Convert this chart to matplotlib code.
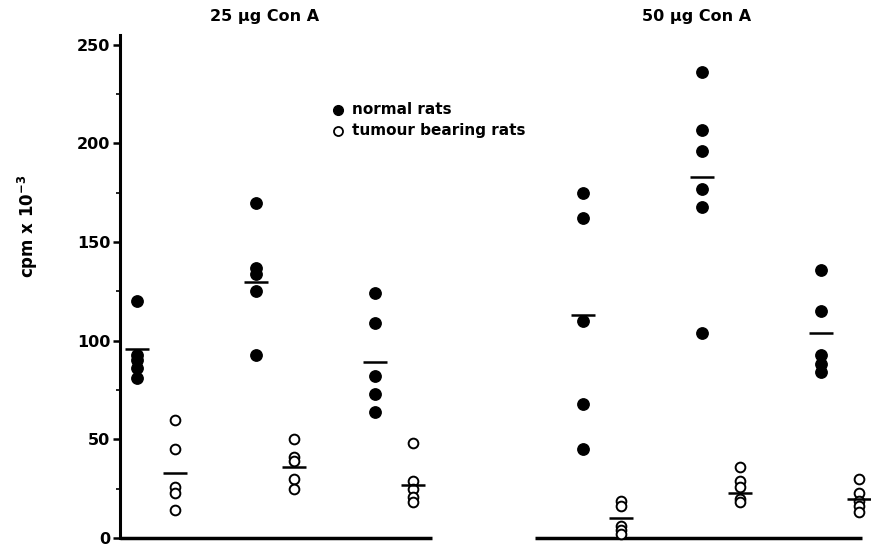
import matplotlib
matplotlib.use("Agg")
import matplotlib.pyplot as plt
import numpy as np

# ---- data (cpm x 10^-3) ----
groups = ["25 \u03bcg Con A", "50 \u03bcg Con A"]

normal_25 = [
    [120, 93, 90, 86, 81],
    [170, 137, 134, 125, 93],
    [124, 109, 82, 73, 64],
]
tumour_25 = [
    [60, 45, 26, 23, 14],
    [50, 41, 39, 30, 25],
    [48, 29, 25, 21, 18],
]
normal_50 = [
    [175, 162, 110, 68, 45],
    [236, 207, 196, 177, 168, 104],
    [136, 115, 93, 88, 84],
]
tumour_50 = [
    [19, 16, 6, 4, 2],
    [36, 29, 26, 20, 18],
    [30, 23, 19, 16, 13],
]
# mean bars as drawn in the figure
normal_means = [[96, 130, 89], [113, 183, 104]]
tumour_means = [[33, 36, 27], [10, 23, 20]]

yticks = [0, 50, 100, 150, 200, 250]
legend_labels = ["normal rats", "tumour bearing rats"]

# ---- layout ----
W, H, DPI = 871, 546, 100
PX = 119.0                      # pixels per x unit (pair spacing)
group_start = [17 / PX, 463 / PX]
pair_offset = 38 / PX
base_spans = [(0.0, 312 / PX), (415 / PX, 742 / PX)]
half_bar = 12 / PX
title_x = [(265 - 120) / PX, (697 - 120) / PX]

fig = plt.figure(figsize=(W / DPI, H / DPI), dpi=DPI)
ax = fig.add_axes([120 / W, 8 / H, 751 / W, 503 / H])
ax.set_xlim(0, 751 / PX)
ax.set_ylim(0, 255)

normals = [normal_25, normal_50]
tumours = [tumour_25, tumour_50]

for g in range(2):
    for p in range(3):
        xn = group_start[g] + p
        xt = xn + pair_offset
        yn = normals[g][p]
        yt = tumours[g][p]
        ax.plot([xn] * len(yn), yn, "o", color="black", ms=8.2,
                mec="black", clip_on=False, zorder=3)
        ax.plot([xt] * len(yt), yt, "o", mfc="white", mec="black", ms=7,
                mew=1.4, clip_on=False, zorder=3)
        ax.plot([xn - half_bar, xn + half_bar], [normal_means[g][p]] * 2,
                color="black", lw=1.8, zorder=4, solid_capstyle="butt")
        ax.plot([xt - half_bar, xt + half_bar], [tumour_means[g][p]] * 2,
                color="black", lw=1.8, zorder=4, solid_capstyle="butt")
    x0, x1 = base_spans[g]
    ax.plot([x0, x1], [0, 0], color="black", lw=2.5, clip_on=False,
            solid_capstyle="butt", zorder=2)
    ax.text(title_x[g], 264.5, groups[g], ha="center", va="center",
            fontsize=11.5, fontweight="bold")

# legend
lx = (338 - 120) / PX
ax.plot([lx], [217], "o", color="black", ms=7, clip_on=False)
ax.plot([lx], [206.5], "o", mfc="white", mec="black", ms=6.5, mew=1.3,
        clip_on=False)
ax.text(lx + 14 / PX, 217, legend_labels[0], va="center", fontsize=11,
        fontweight="bold")
ax.text(lx + 14 / PX, 206.5, legend_labels[1], va="center", fontsize=11,
        fontweight="bold")

# axes styling
for s in ["top", "right", "bottom"]:
    ax.spines[s].set_visible(False)
ax.spines["left"].set_linewidth(2.2)
ax.spines["left"].set_bounds(0, 255)
ax.set_xticks([])
ax.set_yticks(yticks)
ax.set_yticks(np.arange(25, 250, 50), minor=True)
ax.tick_params(axis="y", which="major", length=5, width=1.8, direction="out",
               labelsize=11.5, pad=2)
ax.tick_params(axis="y", which="minor", length=3, width=1.2, direction="out")
for lab in ax.get_yticklabels():
    lab.set_fontweight("bold")
ax.set_ylabel("cpm x 10$^{\\mathbf{-3}}$", fontsize=12, fontweight="bold")
ax.yaxis.set_label_coords(-0.106, 0.62)

fig.savefig("out.png", dpi=DPI)
